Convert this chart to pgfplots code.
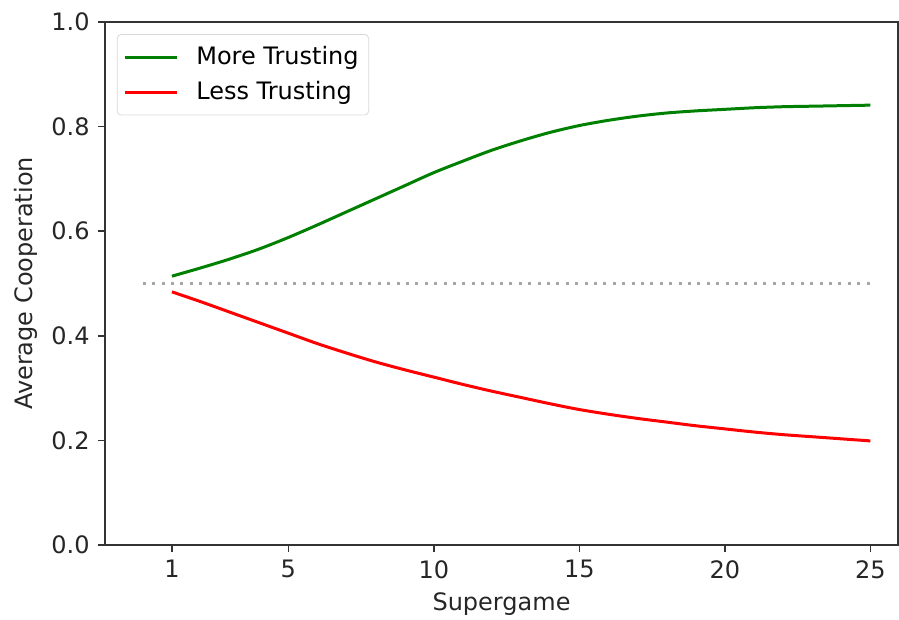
\documentclass[border=0pt]{standalone}
\usepackage{fontspec}
\setmainfont{DejaVu Sans}
\usepackage{pgfplots}
\pgfplotsset{compat=1.18}
\usetikzlibrary{calc}
\definecolor{mplgreen}{RGB}{0,128,0}
\definecolor{mplred}{RGB}{255,0,0}
\begin{document}
\fontsize{12pt}{14pt}\selectfont
\begin{tikzpicture}
\begin{axis}[
  scale only axis,
  width=396.5pt, height=261.5pt,
  xmin=-1.3, xmax=25.95,
  ymin=0, ymax=1,
  xtick={1,5,10,15,20,25},
  ytick={0,0.2,0.4,0.6,0.8,1.0},
  yticklabel style={/pgf/number format/.cd,fixed,fixed zerofill,precision=1},
  /pgf/number format/assume math mode=true,
  tick align=outside,
  xtick pos=bottom, ytick pos=left,
  major tick length=3.5pt,
  every tick/.style={black!80, line width=0.8pt},
  axis line style={black!80, line width=0.8pt},
  tick label style={font=\fontsize{12pt}{14pt}\selectfont, text=black!85},
  label style={font=\fontsize{12pt}{14pt}\selectfont, text=black!85},
  xlabel={Supergame},
  ylabel={Average Cooperation},
  xlabel style={yshift=1pt},
  ylabel style={yshift=-1pt},
  legend style={at={(0.015,0.977)}, anchor=north west, draw=black!15, rounded corners=2pt, font=\fontsize{12pt}{14pt}\selectfont, inner xsep=3pt, inner ysep=4pt, row sep=2.5pt, legend cell align=left},
  legend image code/.code={\draw[#1] (0pt,0pt) -- (26pt,0pt); \path (33pt,0pt);},
  clip=false,
]
\addplot[gray!70, line width=1.5pt, dash pattern=on 1.5pt off 3.2pt, forget plot] coordinates {(0,0.5) (25,0.5)};
\addplot[mplgreen, line width=1.5pt, smooth] coordinates {
(1,0.514) (2,0.530) (3,0.547) (4,0.566) (5,0.588) (6,0.612) (7,0.637) (8,0.662) (9,0.687) (10,0.712)
(11,0.734) (12,0.755) (13,0.773) (14,0.789) (15,0.802) (16,0.812) (17,0.820) (18,0.826) (19,0.830) (20,0.833)
(21,0.836) (22,0.838) (23,0.839) (24,0.840) (25,0.841)};
\addlegendentry{More Trusting}
\addplot[mplred, line width=1.5pt, smooth] coordinates {
(1,0.484) (2,0.465) (3,0.445) (4,0.425) (5,0.405) (6,0.385) (7,0.367) (8,0.350) (9,0.335) (10,0.321)
(11,0.307) (12,0.294) (13,0.282) (14,0.270) (15,0.259) (16,0.250) (17,0.242) (18,0.235) (19,0.228) (20,0.222)
(21,0.216) (22,0.211) (23,0.207) (24,0.203) (25,0.199)};
\addlegendentry{Less Trusting}
\end{axis}
\pgfresetboundingbox
\path ($(current axis.south west)+(-52.5pt,-37.5pt)$) rectangle ($(current axis.north east)+(0.5pt,11pt)$);
\end{tikzpicture}
\end{document}
